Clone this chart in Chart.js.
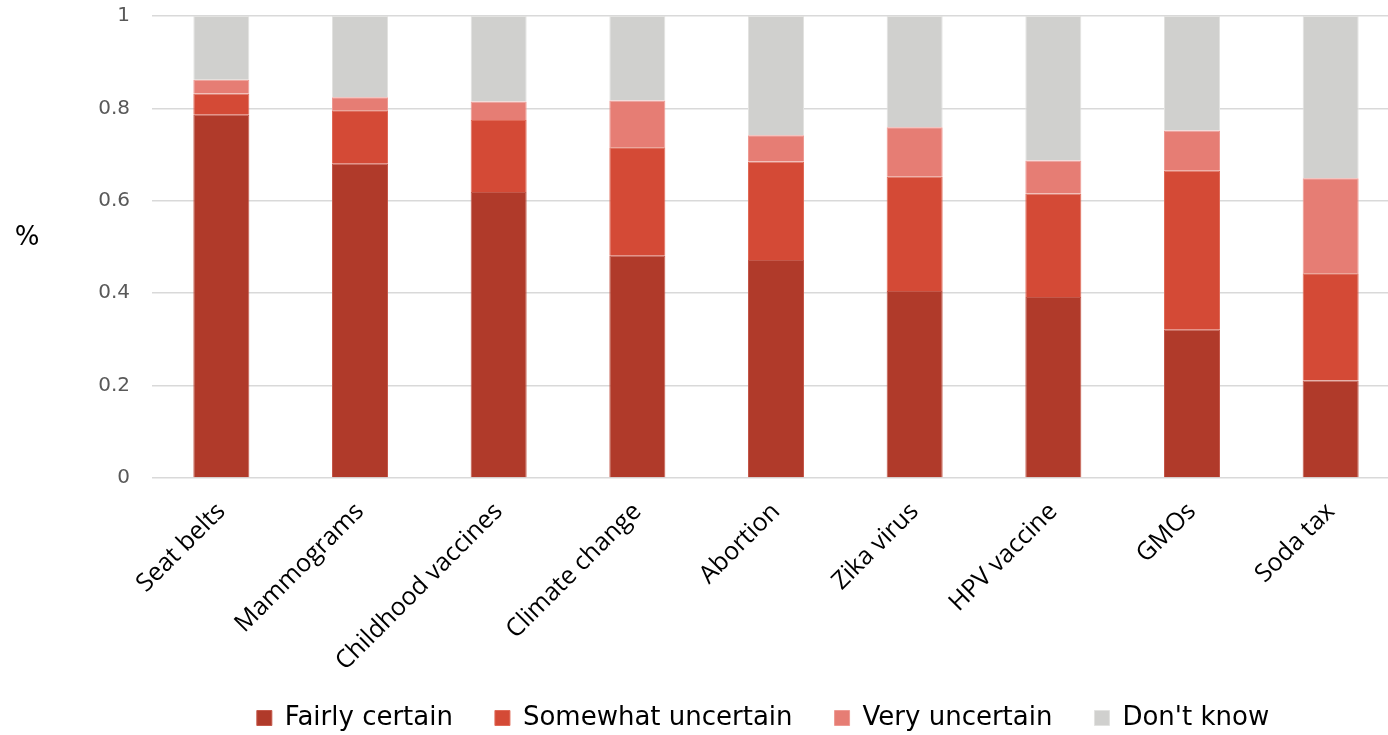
<!DOCTYPE html>
<html>
<head>
<meta charset="utf-8">
<script src="https://cdn.jsdelivr.net/npm/chart.js@4/dist/chart.umd.min.js"></script>
<style>
  html, body { margin: 0; padding: 0; background: #ffffff; overflow: hidden; }
  #wrap { position: relative; width: 1400px; height: 735px; }
</style>
</head>
<body>
<div id="wrap"><canvas id="chart"></canvas></div>
<script>
// Share of respondents by certainty, per topic (each column sums to 1)
const topics = ['Seat belts', 'Mammograms', 'Childhood vaccines', 'Climate change', 'Abortion', 'Zika virus', 'HPV vaccine', 'GMOs', 'Soda tax'];
const fairlyCertain     = [0.786, 0.680, 0.619, 0.481, 0.472, 0.405, 0.392, 0.321, 0.211];
const somewhatUncertain = [0.046, 0.116, 0.156, 0.235, 0.213, 0.247, 0.224, 0.344, 0.232];
const veryUncertain     = [0.030, 0.028, 0.040, 0.101, 0.057, 0.107, 0.071, 0.087, 0.206];
const dontKnow          = [0.138, 0.176, 0.185, 0.183, 0.258, 0.241, 0.313, 0.248, 0.351];
const yTicks = [0, 0.2, 0.4, 0.6, 0.8, 1];
const yAxisLabel = '%';

const series = [
  { label: 'Fairly certain',     data: fairlyCertain,     fill: '#B03A2A', edge: '#C4584A' },
  { label: 'Somewhat uncertain', data: somewhatUncertain, fill: '#D44A36', edge: '#E06A58' },
  { label: 'Very uncertain',     data: veryUncertain,     fill: '#E67D74', edge: '#EE9A93' },
  { label: "Don't know",         data: dontKnow,          fill: '#D0D0CE', edge: '#E2E2E0' }
];

// Upright axis caption to the left of the value axis
const axisCaption = {
  id: 'axisCaption',
  afterDraw(chart) {
    const ctx = chart.ctx;
    ctx.save();
    ctx.font = '26px "DejaVu Sans"';
    ctx.fillStyle = '#000000';
    ctx.textAlign = 'center';
    ctx.textBaseline = 'middle';
    ctx.fillText(yAxisLabel, 27, 238);
    ctx.restore();
  }
};

// Nudge the legend row so it sits centred under the plot, near the bottom edge
const legendOffset = {
  id: 'legendOffset',
  afterLayout(chart) {
    const dx = 63, dy = -15;
    chart.legend.left += dx;
    chart.legend.right += dx;
    chart.legend.top += dy;
    chart.legend.bottom += dy;
  }
};

new Chart(document.getElementById('chart'), {
  type: 'bar',
  data: {
    labels: topics,
    datasets: series.map(s => ({
      label: s.label,
      data: s.data,
      backgroundColor: s.fill,
      borderColor: s.edge,
      borderWidth: 1,
      categoryPercentage: 1.0,
      barPercentage: 0.404
    }))
  },
  options: {
    responsive: true,
    maintainAspectRatio: false,
    animation: false,
    layout: { padding: { top: 16, right: 0, bottom: -21, left: 0 } },
    plugins: {
      tooltip: { enabled: false },
      legend: {
        position: 'bottom',
        labels: {
          boxWidth: 15,
          boxHeight: 15,
          padding: 42,
          color: '#000000',
          font: { family: '"DejaVu Sans"', size: 26 }
        }
      }
    },
    scales: {
      x: {
        stacked: true,
        grid: { display: false, drawTicks: false },
        border: { display: false },
        ticks: {
          color: '#000000',
          font: { family: '"Open Sans"', size: 25 },
          maxRotation: 45,
          minRotation: 45,
          padding: 19,
          autoSkip: false
        },
        afterFit(scale) {
          scale.height = 200;
          scale.paddingLeft = 0;
          scale.paddingRight = 0;
        }
      },
      y: {
        stacked: true,
        min: 0,
        max: 1,
        afterBuildTicks(scale) {
          scale.ticks = yTicks.map(v => ({ value: v }));
        },
        grid: { color: '#D9D9D9', lineWidth: 1.5, drawTicks: false },
        border: { display: false },
        ticks: {
          color: '#595959',
          font: { family: '"DejaVu Sans"', size: 20 },
          padding: 22,
          callback: v => String(+Number(v).toFixed(1))
        },
        afterFit(scale) {
          scale.width = 152;
          scale.paddingTop = 0;
          scale.paddingBottom = 0;
        }
      }
    }
  },
  plugins: [axisCaption, legendOffset]
});
</script>
</body>
</html>
